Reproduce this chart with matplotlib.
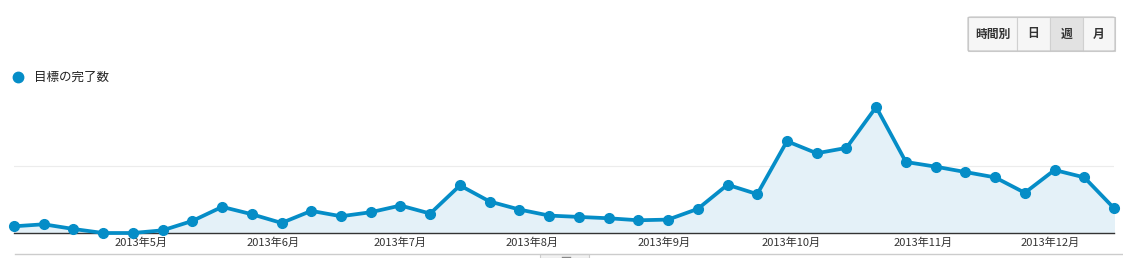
import pandas as pd
import matplotlib
matplotlib.use('Agg')
import matplotlib.pyplot as plt
from matplotlib.patches import Rectangle, FancyBboxPatch

plt.rcParams['font.family'] = ['Noto Sans CJK JP', 'DejaVu Sans']

# weekly data, weeks starting 2013-04-01
weeks = pd.date_range('2013-04-01', periods=38, freq='7D')
goal_completions = [10, 13, 6, 0, 0, 4, 18, 39, 28, 15, 33, 25, 31, 41, 29, 71, 47, 35, 26,
                    24, 22, 19, 20, 36, 72, 58, 137, 119, 127, 188, 106, 99, 91, 83, 60, 94, 83, 37]
month_ticks = pd.date_range('2013-05-01', '2013-12-01', freq='MS')
month_labels = ['2013年{}月'.format(d.month) for d in month_ticks]
series_name = '目標の完了数'
buttons = ['時間別', '日', '週', '月']

W, H = 1123, 258
blue = '#058dc7'

fig = plt.figure(figsize=(W / 100, H / 100), dpi=100, facecolor='white')


def fx(x):
    return x / W


def fy(y):
    return 1 - y / H


ax = fig.add_axes([fx(14), fy(233), fx(1114) - fx(14), fy(90) - fy(233)])
ax.fill_between(weeks, goal_completions, 0, color='#e4f1f8', zorder=1)
ax.plot(weeks, goal_completions, color=blue, lw=2.7, marker='o', ms=7,
        clip_on=False, zorder=3)
ax.axhline(100, color='#ececec', lw=0.8, zorder=0.5)

ax.set_xlim(weeks[0], weeks[-1])
ax.set_ylim(0, 213.4)
ax.set_xticks(month_ticks)
ax.set_xticklabels(month_labels, fontsize=8, color='#333333')
ax.tick_params(axis='x', length=0, pad=3)
ax.set_yticks([])
for s in ['top', 'left', 'right']:
    ax.spines[s].set_visible(False)
ax.spines['bottom'].set_color('#333333')
ax.spines['bottom'].set_linewidth(1.0)
ax.spines['bottom'].set_zorder(2)

# legend
fig.add_artist(plt.Line2D([fx(18)], [fy(77)], transform=fig.transFigure, marker='o',
                          ms=7.5, color=blue, lw=0))
fig.text(fx(34), fy(77), series_name, fontsize=9, color='#222222', va='center')

# period buttons
edges = [968, 1017, 1050, 1083, 1115]
top, bottom = 17, 51
for i, label in enumerate(buttons):
    x0, x1 = edges[i], edges[i + 1]
    face = '#e2e2e2' if label == '週' else '#f6f6f6'
    fig.patches.append(Rectangle((fx(x0), fy(bottom)), fx(x1) - fx(x0), fy(top) - fy(bottom),
                                 transform=fig.transFigure, facecolor=face,
                                 edgecolor='#d0d0d0', lw=0.8))
    fig.text(fx((x0 + x1) / 2), fy((top + bottom) / 2), label, fontsize=8.5,
             fontweight='bold', color='#333333', ha='center', va='center')
fig.patches.append(FancyBboxPatch((fx(edges[0]), fy(bottom)), fx(edges[-1]) - fx(edges[0]),
                                  fy(top) - fy(bottom), boxstyle='round,pad=0,rounding_size=0.003',
                                  transform=fig.transFigure, facecolor='none',
                                  edgecolor='#c4c4c4', lw=0.8))

# bottom scroll bar line and handle
fig.add_artist(plt.Line2D([fx(15), 1], [fy(254), fy(254)], transform=fig.transFigure,
                          color='#cccccc', lw=1))
fig.patches.append(Rectangle((fx(540), 0), fx(589) - fx(540), fy(254), transform=fig.transFigure,
                             facecolor='#f2f2f2', edgecolor='#cccccc', lw=0.8))
fig.add_artist(plt.Line2D([fx(562), fx(570)], [fy(256.5), fy(256.5)], transform=fig.transFigure,
                          color='#888888', lw=1))

fig.savefig('out.png', dpi=100, facecolor='white')
